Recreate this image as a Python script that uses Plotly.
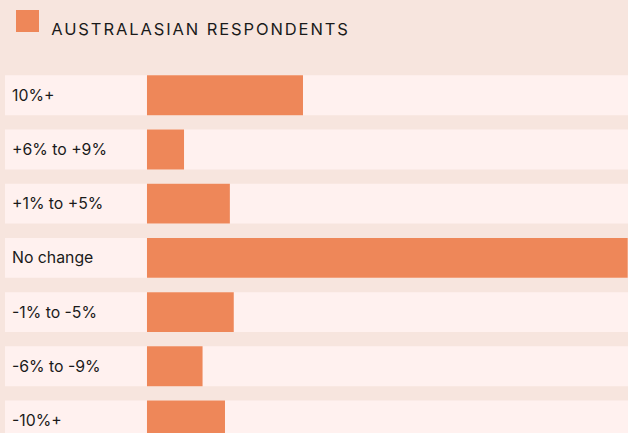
import plotly.graph_objects as go

categories = ["10%+", "+6% to +9%", "+1% to +5%", "No change", "-1% to -5%", "-6% to -9%", "-10%+"]
values = [16.0, 3.8, 8.5, 49.3, 8.9, 5.7, 8.0]
series_name = "AUSTRALASIAN RESPONDENTS"

BG = "#F7E5DE"
BAND = "#FFF1EF"
BAR = "#EE8759"
TXT = "#1A1A1A"
FONT = "Inter"

x_lo, x_hi = -14.56, 49.33
bar_w = 0.736

fig = go.Figure()
fig.add_trace(go.Bar(
    y=categories, x=[x_hi - x_lo] * len(categories), base=[x_lo] * len(categories),
    orientation="h", marker=dict(color=BAND, line=dict(width=0)), width=bar_w,
    showlegend=False, hoverinfo="skip"))
fig.add_trace(go.Bar(
    y=categories, x=values, orientation="h", name=series_name,
    marker=dict(color=BAR, line=dict(width=0)), width=bar_w, showlegend=False))

for c in categories:
    fig.add_annotation(x=0, xref="paper", xanchor="left", xshift=5, y=c, yref="y",
                       text=c, showarrow=False, font=dict(family=FONT, size=15.8, color=TXT))

fig.add_shape(type="rect", xref="paper", yref="paper", xsizemode="pixel", ysizemode="pixel",
              xanchor=0, yanchor=1, x0=11, x1=34, y0=28, y1=50,
              fillcolor=BAR, line=dict(width=0))
fig.add_annotation(x=0, xref="paper", xanchor="left", xshift=67, y=1, yref="paper",
                   yanchor="middle", yshift=31, text=series_name, showarrow=False,
                   font=dict(family=FONT, size=16.5, color=TXT))

fig.update_layout(
    width=628, height=433, margin=dict(l=5, r=0, t=60, b=0),
    paper_bgcolor=BG, plot_bgcolor=BG, barmode="overlay",
    xaxis=dict(range=[x_lo, x_hi], showgrid=False, zeroline=False, showticklabels=False, fixedrange=True),
    yaxis=dict(type="category", categoryarray=categories, range=[6.23, -0.65],
               showgrid=False, zeroline=False, showticklabels=False, fixedrange=True),
)

post = """
document.body.style.margin = '0';
document.querySelectorAll('.annotation-text').forEach(function (e) {
  if (e.textContent === 'AUSTRALASIAN RESPONDENTS') { e.style.letterSpacing = '1.9px'; }
});
"""
fig.write_html("out.html", config={"displayModeBar": False}, post_script=post)
